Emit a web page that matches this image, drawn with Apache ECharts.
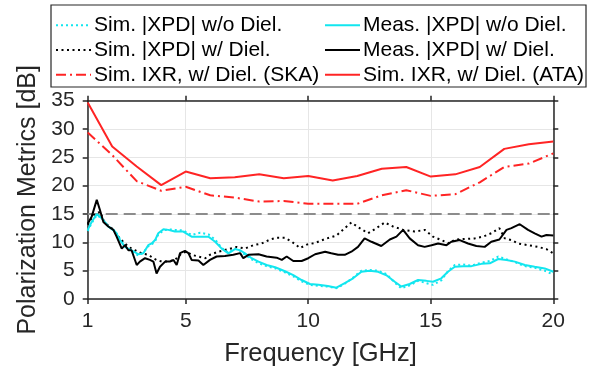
<!DOCTYPE html>
<html><head><meta charset="utf-8">
<script src="https://cdn.jsdelivr.net/npm/echarts@6/dist/echarts.min.js"></script>
<style>html,body{margin:0;padding:0;background:#fff}#c{width:602px;height:372px}</style>
</head><body><div id="c"></div>
<script>
// ---- data ----
const xTicks = [1, 5, 10, 15, 20];
const refLevel = [15];
const redFreq = [1,2,3,4,5,6,7,8,9,10,11,12,13,14,15,16,17,18,19,20];
const ataVals = [34.7,26.9,23.4,20.1,22.5,21.3,21.5,22.0,21.3,21.7,20.9,21.7,23.0,23.3,21.6,22.0,23.3,26.5,27.3,27.8];
const skaVals = [29.4,25.4,20.8,19.1,19.8,18.3,17.9,17.2,17.3,16.8,16.8,16.8,18.3,19.2,18.2,18.5,20.6,23.3,23.9,25.7];

const cyanFreq = [1.0,1.16,1.37,1.56,1.84,2.12,2.32,2.52,2.79,3.07,3.27,3.47,3.61,3.75,3.88,4.09,4.29,4.56,4.90,5.24,5.59,5.93,6.2,6.47,6.74,7.01,7.22,7.42,7.69,7.97,8.3,8.65,9.05,9.39,9.73,10.07,10.42,10.8,11.15,11.49,11.83,12.17,12.51,12.85,13.19,13.53,13.8,14.14,14.48,14.82,15.09,15.43,15.7,15.98,16.32,16.66,17.07,17.41,17.75,18.09,18.43,18.84,19.24,19.65,20.0];
const measWoVals = [12.2,13.6,15.0,14.3,12.8,11.9,10.4,9.2,8.6,7.9,8.06,9.5,9.8,10.4,11.6,12.3,12.2,11.9,11.9,11.0,11.0,11.0,10.1,8.9,8.06,8.8,8.6,8.06,7.2,6.6,6.0,5.6,4.9,4.2,3.35,2.65,2.5,2.3,2.0,2.8,3.65,4.8,5.0,4.8,4.2,3.05,2.2,2.65,3.35,3.2,3.05,3.65,4.8,5.7,5.8,5.8,6.2,6.3,7.06,6.9,6.6,6.0,5.7,5.4,4.8];
const simWoVals = [12.0,13.4,14.8,14.3,12.8,12.0,10.6,9.5,8.3,7.7,8.2,9.3,9.6,10.2,11.4,12.1,12.3,12.2,12.1,11.3,11.7,11.4,10.5,9.0,8.2,8.9,8.5,7.8,7.0,6.3,5.8,5.4,4.7,4.0,3.1,2.5,2.3,2.2,1.9,2.7,3.8,5.0,5.1,5.0,4.4,2.9,1.9,2.4,3.2,2.8,2.5,3.3,4.9,6.0,6.1,5.9,6.4,6.7,7.5,7.0,6.5,5.8,5.5,5.0,4.3];

const measWFreq = [1.00,1.16,1.37,1.50,1.64,1.84,2.05,2.18,2.39,2.52,2.66,2.79,3.00,3.13,3.34,3.54,3.68,3.81,3.95,4.16,4.36,4.50,4.63,4.77,4.97,5.11,5.24,5.52,5.72,5.99,6.26,6.60,6.94,7.22,7.35,7.56,7.97,8.30,8.71,8.92,9.12,9.39,9.73,10.0,10.28,10.69,10.94,11.22,11.49,11.76,12.03,12.3,12.58,12.98,13.33,13.6,13.87,14.14,14.48,14.75,15.03,15.3,15.64,15.84,16.18,16.52,16.86,17.2,17.47,17.8,18.09,18.29,18.63,18.97,19.24,19.52,19.72,20.0];
const measWVals = [13.3,14.5,17.5,15.7,13.6,12.8,12.2,11.0,8.9,9.5,8.6,8.6,6.0,6.6,7.2,6.9,6.6,4.5,5.7,6.6,6.6,6.9,6.0,8.1,8.5,8.1,6.9,6.8,6.0,6.9,7.5,7.6,7.8,8.1,7.2,7.8,7.9,7.5,7.3,6.9,7.5,6.7,6.7,7.2,7.9,8.35,8.06,7.8,7.8,8.35,9.2,10.7,10.1,9.35,10.5,11.0,12.2,10.7,9.5,9.2,9.5,9.8,9.5,10.1,10.4,9.8,9.35,9.2,10.1,10.5,12.2,12.5,13.2,12.2,11.6,11.0,11.3,11.2];

const simWFreq = [1.0,1.23,1.50,1.71,1.98,2.25,2.45,2.66,2.93,3.20,3.47,3.68,3.81,4.02,4.29,4.56,4.83,5.03,5.24,5.52,5.80,5.99,6.33,6.74,7.08,7.42,7.76,8.10,8.44,8.71,9.05,9.33,9.67,9.94,10.28,10.69,11.15,11.49,11.76,12.1,12.44,12.78,13.12,13.46,13.87,14.35,14.75,15.09,15.43,15.77,15.98,16.39,16.8,17.13,17.47,17.8,18.02,18.29,18.56,18.97,19.38,19.72,20.0];
const simWVals = [13.1,14.8,15.4,13.4,12.5,11.0,10.1,9.2,8.6,8.06,7.8,7.2,6.9,6.6,6.6,6.9,8.06,8.35,7.8,7.5,7.2,7.8,8.35,8.8,9.2,8.9,9.5,9.8,10.5,10.8,10.8,10.1,9.0,9.6,9.9,10.6,11.2,12.5,13.5,12.5,11.6,12.5,13.5,12.8,12.2,11.9,12.2,11.0,10.4,9.8,10.5,10.6,10.7,11.0,11.6,12.5,10.7,10.4,9.8,9.5,9.2,8.8,8.06];

const names = ['Sim. |XPD| w/o Diel.','Meas. |XPD| w/o Diel.','Sim. |XPD| w/ Diel.','Meas. |XPD| w/ Diel.','Sim. IXR, w/ Diel. (SKA)','Sim. IXR, w/ Diel. (ATA)'];

// ---- build ----
const zip = (xs, ys) => xs.map((x, i) => [x, ys[i]]);
const FONT = 'Liberation Sans';
const AX = '#262626';
const CYAN = '#12e6ef', RED = '#ff2424';

function ln(name, data, color, type, z) {
  return { name, type: 'line', data, symbol: 'none', z: z || 2, animation: false,
    lineStyle: { color, width: 2, type: type || 'solid', cap: 'butt' }, itemStyle: { color } };
}

const chart = echarts.init(document.getElementById('c'), null, { renderer: 'canvas' });
const grid = { left: 87.7, right: 48.7, top: 100.7, bottom: 73 };
const legendCommon = { orient: 'vertical', top: 13, itemWidth: 35, itemHeight: 14, itemGap: 0,
  selectedMode: false, padding: 0,
  itemStyle: { opacity: 0, borderWidth: 0 },
  textStyle: { fontFamily: FONT, fontSize: 21, color: '#000', lineHeight: 24.7, padding: [0,0,0,-2] } };

chart.setOption({
  animation: false,
  textStyle: { fontFamily: FONT },
  graphic: [{ type: 'rect', shape: { x: 51, y: 5, width: 535, height: 82 }, z: 100,
    style: { fill: 'none', stroke: AX, lineWidth: 1.2 } }],
  legend: [
    Object.assign({ left: 55, data: [names[0], names[2], names[4]] }, legendCommon),
    Object.assign({ left: 324, data: [names[1], names[3], names[5]] }, legendCommon)
  ],
  grid,
  xAxis: [{
    type: 'value', min: 1, max: 20, position: 'bottom',
    name: 'Frequency [GHz]', nameLocation: 'middle', nameGap: 42,
    nameTextStyle: { fontFamily: FONT, fontSize: 25.5, color: AX },
    axisLine: { show: true, onZero: false, lineStyle: { color: AX, width: 1.5 } },
    axisTick: { show: true, inside: false, length: 5, customValues: xTicks, lineStyle: { color: AX, width: 1.5 } },
    axisLabel: { customValues: xTicks, margin: 12, fontFamily: FONT, fontSize: 21, color: AX },
    splitLine: { show: true, lineStyle: { color: '#e6e6e6', width: 1 } }
  }, {
    type: 'value', min: 1, max: 20, position: 'top',
    axisLine: { show: true, onZero: false, lineStyle: { color: AX, width: 1.5 } },
    axisTick: { show: true, inside: false, length: 5, customValues: xTicks, lineStyle: { color: AX, width: 1.5 } },
    axisLabel: { show: false }, splitLine: { show: false }
  }],
  yAxis: [{
    type: 'value', min: 0, max: 35, interval: 5, position: 'left',
    name: 'Polarization Metrics [dB]', nameLocation: 'middle', nameGap: 45,
    nameTextStyle: { fontFamily: FONT, fontSize: 25, color: AX },
    axisLine: { show: true, onZero: false, lineStyle: { color: AX, width: 1.5 } },
    axisTick: { show: true, inside: false, length: 5, lineStyle: { color: AX, width: 1.5 } },
    axisLabel: { margin: 13, fontFamily: FONT, fontSize: 21, color: AX },
    splitLine: { show: true, lineStyle: { color: '#e6e6e6', width: 1 } }
  }, {
    type: 'value', min: 0, max: 35, interval: 5, position: 'right',
    axisLine: { show: true, onZero: false, lineStyle: { color: AX, width: 1.5 } },
    axisTick: { show: true, inside: false, length: 5, lineStyle: { color: AX, width: 1.5 } },
    axisLabel: { show: false }, splitLine: { show: false }
  }],
  series: [
    { type: 'line', name: 'ref', data: [[xTicks[0], refLevel[0]], [xTicks[xTicks.length-1], refLevel[0]]],
      symbol: 'none', silent: true, z: 1,
      lineStyle: { color: '#8c8c8c', width: 2, type: [12, 6] } },
    ln(names[0], zip(cyanFreq, simWoVals), CYAN, [2, 3]),
    ln(names[2], zip(simWFreq, simWVals), '#000', [2, 3.5]),
    ln(names[4], zip(redFreq, skaVals), RED, [10, 4, 2, 4]),
    ln(names[1], zip(cyanFreq, measWoVals), CYAN, 'solid'),
    ln(names[3], zip(measWFreq, measWVals), '#000', 'solid'),
    ln(names[5], zip(redFreq, ataVals), RED, 'solid')
  ]
});
</script></body></html>
